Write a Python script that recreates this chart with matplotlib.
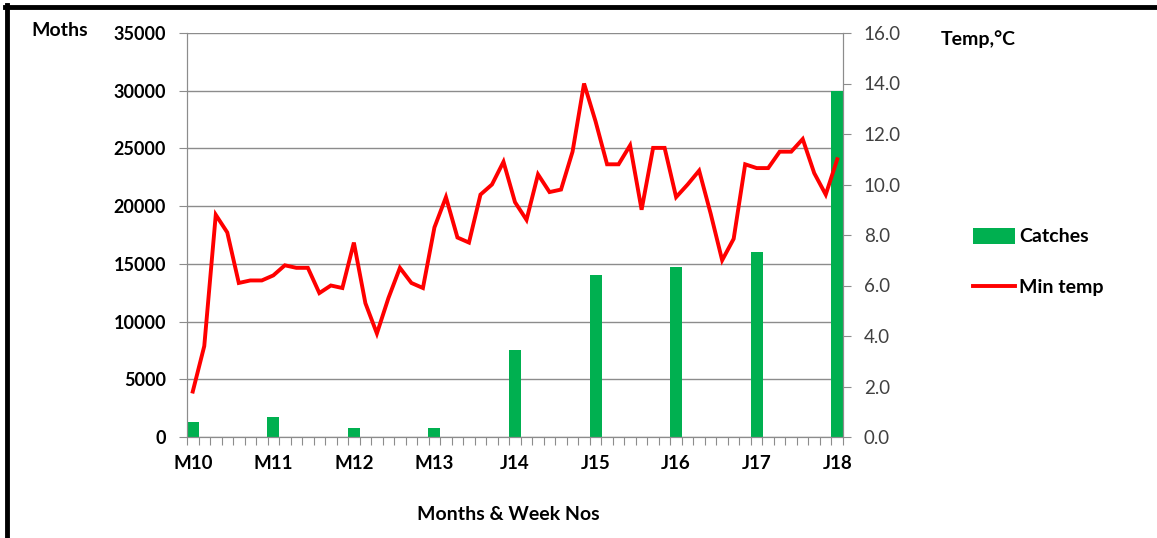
import matplotlib
matplotlib.use('Agg')
import numpy as np
import matplotlib.pyplot as plt
from matplotlib.lines import Line2D

plt.rcParams['font.family'] = ['Lato', 'DejaVu Sans']

# weekly categories, labelled once every 7 weeks
week_labels = ['M10', 'M11', 'M12', 'M13', 'J14', 'J15', 'J16', 'J17', 'J18']
n_weeks = 57

min_temp = [1.8, 3.6, 8.8, 8.1, 6.1, 6.2, 6.2, 6.4, 6.8, 6.7,
            6.7, 5.7, 6.0, 5.9, 7.7, 5.3, 4.1, 5.5, 6.7, 6.1,
            5.9, 8.3, 9.5, 7.9, 7.7, 9.6, 10.0, 10.9, 9.3, 8.6,
            10.4, 9.7, 9.8, 11.3, 14.0, 12.5, 10.8, 10.8, 11.55, 9.0,
            11.45, 11.45, 9.5, 10.0, 10.55, 8.85, 7.0, 7.85, 10.8, 10.65,
            10.65, 11.3, 11.3, 11.8, 10.45, 9.6, 11.0]

catch_weeks = [0, 7, 14, 21, 28, 35, 42, 49, 56]
catches = [1300, 1700, 800, 800, 7500, 14000, 14700, 16000, 30000]

fig = plt.figure(figsize=(11.57, 5.38), dpi=100)
ax1 = fig.add_axes([187/1157, 1-437/538, 656/1157, 404/538])
ax2 = ax1.twinx()

grid_col = '#8c8c8c'
ax1.bar(catch_weeks, catches, width=1.05, color='#00B050', label='Catches', zorder=2)
ax2.plot(np.arange(n_weeks), min_temp, color='#FF0000', lw=2.8, label='Min temp',
         solid_joinstyle='miter')

ax1.set_xlim(-0.5, n_weeks - 0.5)
ax1.set_ylim(0, 35000)
ax1.set_yticks(np.arange(0, 35001, 5000))
ax1.yaxis.grid(True, color=grid_col, lw=1)
ax1.set_axisbelow(True)
ax2.set_ylim(0, 16)
ax2.set_yticks(np.arange(0, 16.1, 2))
ax2.set_yticklabels(['{:.1f}'.format(v) for v in np.arange(0, 16.1, 2)])

# category boundary ticks, labels only at every 7th week
ax1.set_xticks(np.arange(-0.5, n_weeks, 1))
ax1.set_xticklabels([])
ax1.tick_params(axis='x', which='major', length=6, color=grid_col, direction='out')
ax1.set_xticks(catch_weeks, minor=True)
ax1.set_xticklabels(week_labels, minor=True, fontsize=13.5, fontweight='bold')
ax1.tick_params(axis='x', which='minor', length=0, pad=13)

ax1.tick_params(axis='y', length=6, color=grid_col, pad=9, labelsize=13)
for t in ax1.get_yticklabels():
    t.set_fontweight('bold')
ax2.tick_params(axis='y', length=6, color=grid_col, pad=9, labelsize=13.5, labelcolor='#404040')

for ax in (ax1, ax2):
    for s in ax.spines.values():
        s.set_color(grid_col)
    ax.spines['top'].set_visible(False)

fig.text(60/1157, 1-30/538, 'Moths', fontsize=14, fontweight='bold', ha='center', va='center')
fig.text(978/1157, 1-39/538, 'Temp,°C', fontsize=14, fontweight='bold', ha='center', va='center')
fig.text(508/1157, 1-514/538, 'Months & Week Nos', fontsize=14, fontweight='bold',
         ha='center', va='center')

h1, l1 = ax1.get_legend_handles_labels()
h2, l2 = ax2.get_legend_handles_labels()
leg = fig.legend(h1 + h2, l1 + l2, loc='center left', bbox_to_anchor=(955/1157, 1-262/538),
                 frameon=False, prop={'weight': 'bold', 'size': 14}, labelspacing=1.7,
                 handlelength=2.2, handleheight=0.9, handletextpad=0.2)

# black frame on top and left edges
fig.add_artist(Line2D([5/1157, 1], [1-7/538, 1-7/538], color='black', lw=3.5))
fig.add_artist(Line2D([7/1157, 7/1157], [0, 1-5/538], color='black', lw=3.5))

plt.savefig('out.png', dpi=100)
